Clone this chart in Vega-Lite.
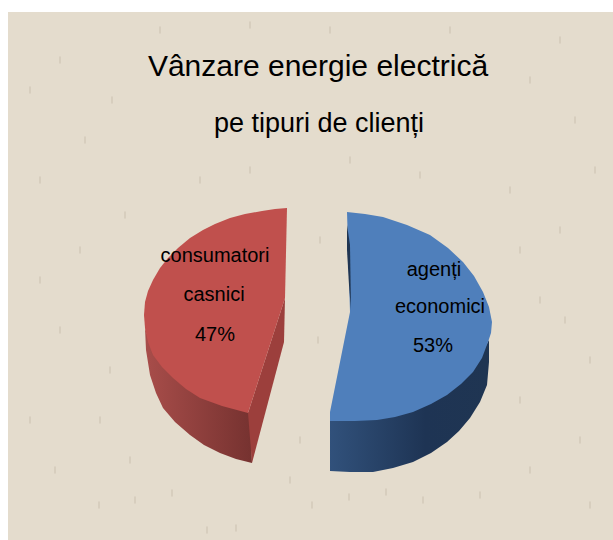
{"$schema":"https://vega.github.io/schema/vega-lite/v6.json","autosize":{"type":"fit","contains":"padding"},"width":613,"height":540,"padding":0,"background":"#ffffff","view":{"stroke":null},
"config":{"axis":{"disable":true}},
"datasets":{
"panel":[{"x0":8,"x1":613,"y0":12,"y1":540}],
"speck":[{"x":99,"y":505},{"x":135,"y":500},{"x":172,"y":493},{"x":312,"y":505},{"x":349,"y":497},{"x":386,"y":492},{"x":423,"y":500},{"x":236,"y":528},{"x":207,"y":530},{"x":112,"y":100},{"x":60,"y":60},{"x":530,"y":80},{"x":575,"y":120},{"x":40,"y":180},{"x":80,"y":250},{"x":60,"y":330},{"x":100,"y":420},{"x":540,"y":300},{"x":560,"y":230},{"x":520,"y":400},{"x":580,"y":440},{"x":320,"y":240},{"x":318,"y":340},{"x":300,"y":440},{"x":290,"y":480},{"x":200,"y":180},{"x":420,"y":175},{"x":30,"y":420},{"x":590,"y":360},{"x":160,"y":30},{"x":450,"y":30},{"x":30,"y":90},{"x":85,"y":140},{"x":125,"y":215},{"x":40,"y":280},{"x":110,"y":370},{"x":55,"y":470},{"x":130,"y":460},{"x":510,"y":190},{"x":595,"y":170},{"x":520,"y":250},{"x":565,"y":320},{"x":530,"y":470},{"x":590,"y":505},{"x":480,"y":495},{"x":250,"y":170},{"x":350,"y":160},{"x":560,"y":40},{"x":250,"y":25},{"x":330,"y":30}],
"shape":[
{"part":"redFace","o":1,"x":287,"y":208},{"part":"redFace","o":2,"x":275,"y":209},{"part":"redFace","o":3,"x":262,"y":211},{"part":"redFace","o":4,"x":245,"y":214},{"part":"redFace","o":5,"x":230,"y":218},{"part":"redFace","o":6,"x":215,"y":224},{"part":"redFace","o":7,"x":203,"y":230},{"part":"redFace","o":8,"x":190,"y":238},{"part":"redFace","o":9,"x":178,"y":248},{"part":"redFace","o":10,"x":168,"y":258},{"part":"redFace","o":11,"x":160,"y":268},{"part":"redFace","o":12,"x":153,"y":280},{"part":"redFace","o":13,"x":148,"y":291},{"part":"redFace","o":14,"x":145,"y":302},{"part":"redFace","o":15,"x":144,"y":315},{"part":"redFace","o":16,"x":145,"y":328},{"part":"redFace","o":17,"x":148,"y":342},{"part":"redFace","o":18,"x":153,"y":355},{"part":"redFace","o":19,"x":162,"y":367},{"part":"redFace","o":20,"x":173,"y":378},{"part":"redFace","o":21,"x":186,"y":389},{"part":"redFace","o":22,"x":200,"y":398},{"part":"redFace","o":23,"x":222,"y":406},{"part":"redFace","o":24,"x":248,"y":413},{"part":"redFace","o":25,"x":285,"y":298},
{"part":"redWall","o":1,"x":145,"y":328},{"part":"redWall","o":2,"x":146,"y":350},{"part":"redWall","o":3,"x":150,"y":375},{"part":"redWall","o":4,"x":156,"y":393},{"part":"redWall","o":5,"x":163,"y":408},{"part":"redWall","o":6,"x":175,"y":422},{"part":"redWall","o":7,"x":190,"y":435},{"part":"redWall","o":8,"x":204,"y":445},{"part":"redWall","o":9,"x":220,"y":453},{"part":"redWall","o":10,"x":236,"y":459},{"part":"redWall","o":11,"x":252,"y":463},{"part":"redWall","o":12,"x":250,"y":413},{"part":"redWall","o":13,"x":222,"y":404},{"part":"redWall","o":14,"x":186,"y":387},{"part":"redWall","o":15,"x":153,"y":353},
{"part":"redCut","o":1,"x":248,"y":413},{"part":"redCut","o":2,"x":285,"y":298},{"part":"redCut","o":3,"x":284,"y":342},{"part":"redCut","o":4,"x":252,"y":463},
{"part":"blueWall","o":1,"x":330,"y":419},{"part":"blueWall","o":2,"x":377,"y":418},{"part":"blueWall","o":3,"x":413,"y":410},{"part":"blueWall","o":4,"x":447,"y":393},{"part":"blueWall","o":5,"x":473,"y":370},{"part":"blueWall","o":6,"x":489,"y":340},{"part":"blueWall","o":7,"x":489,"y":362},{"part":"blueWall","o":8,"x":487,"y":385},{"part":"blueWall","o":9,"x":480,"y":402},{"part":"blueWall","o":10,"x":470,"y":418},{"part":"blueWall","o":11,"x":459,"y":431},{"part":"blueWall","o":12,"x":447,"y":442},{"part":"blueWall","o":13,"x":431,"y":453},{"part":"blueWall","o":14,"x":413,"y":462},{"part":"blueWall","o":15,"x":393,"y":468},{"part":"blueWall","o":16,"x":373,"y":472},{"part":"blueWall","o":17,"x":350,"y":472},{"part":"blueWall","o":18,"x":330,"y":471},
{"part":"blueFace","o":1,"x":347,"y":212},{"part":"blueFace","o":2,"x":365,"y":214},{"part":"blueFace","o":3,"x":383,"y":217},{"part":"blueFace","o":4,"x":407,"y":225},{"part":"blueFace","o":5,"x":430,"y":235},{"part":"blueFace","o":6,"x":448,"y":248},{"part":"blueFace","o":7,"x":463,"y":262},{"part":"blueFace","o":8,"x":474,"y":276},{"part":"blueFace","o":9,"x":483,"y":292},{"part":"blueFace","o":10,"x":489,"y":307},{"part":"blueFace","o":11,"x":492,"y":322},{"part":"blueFace","o":12,"x":491,"y":333},{"part":"blueFace","o":13,"x":488,"y":342},{"part":"blueFace","o":14,"x":482,"y":358},{"part":"blueFace","o":15,"x":473,"y":372},{"part":"blueFace","o":16,"x":461,"y":384},{"part":"blueFace","o":17,"x":447,"y":395},{"part":"blueFace","o":18,"x":431,"y":404},{"part":"blueFace","o":19,"x":413,"y":412},{"part":"blueFace","o":20,"x":395,"y":417},{"part":"blueFace","o":21,"x":377,"y":420},{"part":"blueFace","o":22,"x":355,"y":421},{"part":"blueFace","o":23,"x":330,"y":421},{"part":"blueFace","o":24,"x":330,"y":412},{"part":"blueFace","o":25,"x":350,"y":312},
{"part":"blueCut","o":1,"x":347,"y":225},{"part":"blueCut","o":2,"x":350,"y":245},{"part":"blueCut","o":3,"x":351,"y":310},{"part":"blueCut","o":4,"x":349,"y":285},{"part":"blueCut","o":5,"x":347,"y":250}
],
"labels":[
{"t":"Vânzare energie electrică","x":318,"y":67,"k":"title"},{"t":"pe tipuri de clienți","x":319,"y":124,"k":"sub"},
{"t":"consumatori","x":215,"y":256,"k":"lab"},{"t":"casnici","x":214,"y":295,"k":"lab"},{"t":"47%","x":215,"y":335,"k":"lab"},
{"t":"agenți","x":434,"y":270,"k":"lab"},{"t":"economici","x":440,"y":307,"k":"lab"},{"t":"53%","x":433,"y":346,"k":"lab"}
]},
"layer":[
{"data":{"name":"panel"},"mark":{"type":"rect","fill":"#e4dccd"},"encoding":{"x":{"field":"x0","type":"quantitative","scale":{"domain":[0,613],"nice":false,"zero":false}},"x2":{"field":"x1"},"y":{"field":"y0","type":"quantitative","scale":{"domain":[540,0],"nice":false,"zero":false}},"y2":{"field":"y1"}}},
{"data":{"name":"speck"},"mark":{"type":"tick","orient":"vertical","color":"#cfc5b4","size":7,"thickness":2,"opacity":0.6},"encoding":{"x":{"field":"x","type":"quantitative"},"y":{"field":"y","type":"quantitative"}}},
{"data":{"name":"shape"},"transform":[{"filter":"datum.part=='redWall'"}],"mark":{"type":"line","filled":true,"strokeWidth":0,"fill":{"gradient":"linear","x1":0,"y1":0,"x2":1,"y2":0,"stops":[{"offset":0,"color":"#a84d4a"},{"offset":1,"color":"#763230"}]}},"encoding":{"x":{"field":"x","type":"quantitative"},"y":{"field":"y","type":"quantitative"},"order":{"field":"o"}}},
{"data":{"name":"shape"},"transform":[{"filter":"datum.part=='redCut'"}],"mark":{"type":"line","filled":true,"strokeWidth":0,"fill":"#9c3f3c"},"encoding":{"x":{"field":"x","type":"quantitative"},"y":{"field":"y","type":"quantitative"},"order":{"field":"o"}}},
{"data":{"name":"shape"},"transform":[{"filter":"datum.part=='redFace'"}],"mark":{"type":"line","filled":true,"strokeWidth":0,"fill":"#c0504d"},"encoding":{"x":{"field":"x","type":"quantitative"},"y":{"field":"y","type":"quantitative"},"order":{"field":"o"}}},
{"data":{"name":"shape"},"transform":[{"filter":"datum.part=='blueWall'"}],"mark":{"type":"line","filled":true,"strokeWidth":0,"fill":{"gradient":"linear","x1":0,"y1":0,"x2":1,"y2":0,"stops":[{"offset":0,"color":"#31517b"},{"offset":0.6,"color":"#1e3454"},{"offset":1,"color":"#1f3552"}]}},"encoding":{"x":{"field":"x","type":"quantitative"},"y":{"field":"y","type":"quantitative"},"order":{"field":"o"}}},
{"data":{"name":"shape"},"transform":[{"filter":"datum.part=='blueFace'"}],"mark":{"type":"line","filled":true,"strokeWidth":0,"fill":"#4f7fbb"},"encoding":{"x":{"field":"x","type":"quantitative"},"y":{"field":"y","type":"quantitative"},"order":{"field":"o"}}},
{"data":{"name":"shape"},"transform":[{"filter":"datum.part=='blueCut'"}],"mark":{"type":"line","filled":true,"strokeWidth":0,"fill":"#1f3552"},"encoding":{"x":{"field":"x","type":"quantitative"},"y":{"field":"y","type":"quantitative"},"order":{"field":"o"}}},
{"data":{"name":"labels"},"transform":[{"filter":"datum.k=='title'"}],"mark":{"type":"text","font":"Liberation Sans","fontSize":30,"color":"#000000","align":"center","baseline":"middle"},"encoding":{"x":{"field":"x","type":"quantitative"},"y":{"field":"y","type":"quantitative"},"text":{"field":"t"}}},
{"data":{"name":"labels"},"transform":[{"filter":"datum.k=='sub'"}],"mark":{"type":"text","font":"Liberation Sans","fontSize":27,"color":"#000000","align":"center","baseline":"middle"},"encoding":{"x":{"field":"x","type":"quantitative"},"y":{"field":"y","type":"quantitative"},"text":{"field":"t"}}},
{"data":{"name":"labels"},"transform":[{"filter":"datum.k=='lab'"}],"mark":{"type":"text","font":"Liberation Sans","fontSize":20,"color":"#000000","align":"center","baseline":"middle"},"encoding":{"x":{"field":"x","type":"quantitative"},"y":{"field":"y","type":"quantitative"},"text":{"field":"t"}}}
]}
